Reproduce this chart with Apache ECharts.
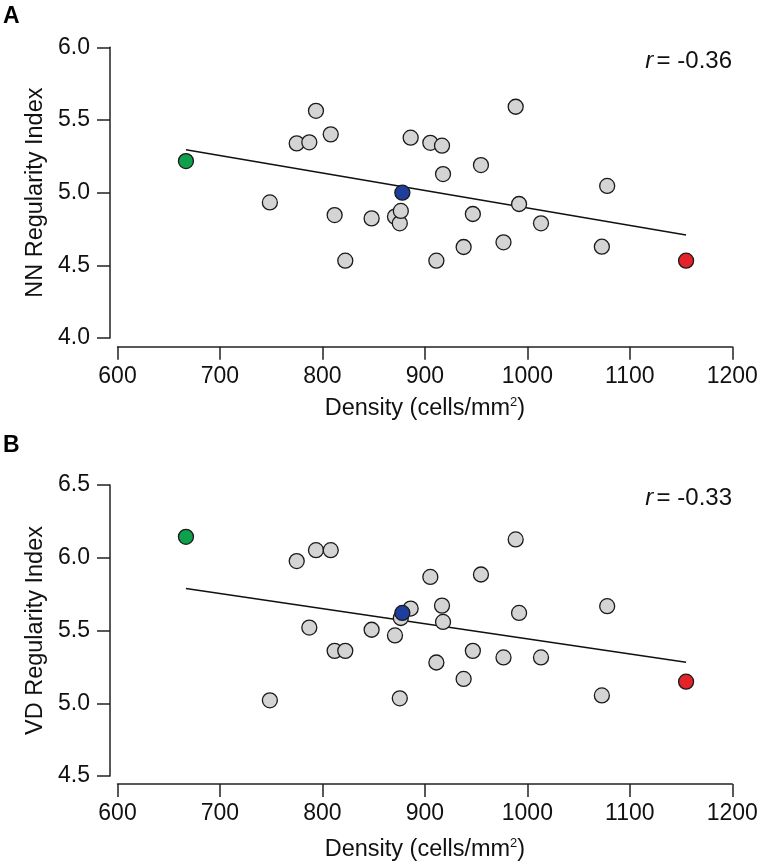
<!DOCTYPE html>
<html>
<head>
<meta charset="utf-8">
<script src="https://cdn.jsdelivr.net/npm/echarts@6/dist/echarts.min.js"></script>
<style>
html,body{margin:0;padding:0;background:#fff;}
#chart{width:762px;height:865px;}
</style>
</head>
<body>
<div id="chart"></div>
<script>
// ---- data ----
const density = [666.8, 748.7, 774.9, 787.2, 793.7, 808.1, 811.9, 822.3, 848.0, 870.8, 875.5, 876.5, 878.0, 886.1,
  905.3, 911.2, 916.7, 917.7, 937.8, 946.8, 954.7, 976.7, 988.6, 991.9, 1013.3, 1072.7, 1077.9, 1154.9];
const nnIndex = [5.217, 4.933, 5.339, 5.346, 5.563, 5.401, 4.846, 4.532, 4.823, 4.835, 4.789, 4.874, 5.000, 5.378,
  5.343, 4.532, 5.323, 5.128, 4.626, 4.853, 5.190, 4.658, 5.591, 4.922, 4.789, 4.628, 5.046, 4.532];
const vdIndex = [6.144, 5.020, 5.977, 5.520, 6.052, 6.052, 5.360, 5.360, 5.505, 5.466, 5.034, 5.586, 5.621, 5.651,
  5.868, 5.280, 5.671, 5.559, 5.167, 5.360, 5.885, 5.315, 6.126, 5.621, 5.315, 5.054, 5.667, 5.148];
const pointGroup = ['green', 'grey', 'grey', 'grey', 'grey', 'grey', 'grey', 'grey', 'grey', 'grey', 'grey', 'grey', 'blue', 'grey',
  'grey', 'grey', 'grey', 'grey', 'grey', 'grey', 'grey', 'grey', 'grey', 'grey', 'grey', 'grey', 'grey', 'red'];
const fitNN = [[666.8, 5.295], [1154.9, 4.709]];
const fitVD = [[666.8, 5.789], [1154.9, 5.282]];
const xTicks = [600, 700, 800, 900, 1000, 1100, 1200];
const nnTicks = [4.0, 4.5, 5.0, 5.5, 6.0];
const vdTicks = [4.5, 5.0, 5.5, 6.0, 6.5];
const rNN = '-0.36';
const rVD = '-0.33';
const panelLabels = ['A', 'B'];
const yTitles = ['NN Regularity Index', 'VD Regularity Index'];

// ---- styles ----
const FONT = "'Liberation Sans', Arial, Helvetica, sans-serif";
const groupColor = { grey: '#d4d4d4', green: '#0ea04b', blue: '#1d3f9b', red: '#e3222a' };
const groupOrder = ['grey', 'green', 'blue', 'red'];

const chart = echarts.init(document.getElementById('chart'), null, { renderer: 'canvas' });

const grids = [
  { left: 117.5, right: 29.7, top: 47.3, height: 290.7 },
  { left: 117.5, right: 29.7, top: 485, height: 291 }
];

function xAxisFor(i, off, gap) {
  return {
    type: 'value', gridIndex: i, min: xTicks[0], max: xTicks[xTicks.length - 1],
    interval: xTicks[1] - xTicks[0], offset: off,
    name: '{t|Density (cells/mm}{s|2}{t|)}', nameLocation: 'middle', nameGap: gap,
    nameTextStyle: {
      rich: {
        t: { fontFamily: FONT, fontSize: 23.5, color: '#111', lineHeight: 26 },
        s: { fontFamily: FONT, fontSize: 13, color: '#111', verticalAlign: 'top', lineHeight: 26 }
      }
    },
    axisLine: { show: true, lineStyle: { color: '#222', width: 1.5 } },
    axisTick: { show: true, length: 13, lineStyle: { color: '#222', width: 1.5 } },
    axisLabel: { fontFamily: FONT, fontSize: 23, color: '#111', margin: 18, formatter: v => String(v) },
    splitLine: { show: false }
  };
}
function yAxisFor(i, ticks, title) {
  return {
    type: 'value', gridIndex: i, min: ticks[0], max: ticks[ticks.length - 1],
    interval: ticks[1] - ticks[0], offset: 7.5,
    name: title, nameLocation: 'middle', nameGap: 62, nameRotate: 90,
    nameTextStyle: { fontFamily: FONT, fontSize: 23.5, color: '#111' },
    axisLine: { show: true, lineStyle: { color: '#222', width: 1.5 } },
    axisTick: { show: true, length: 13, lineStyle: { color: '#222', width: 1.5 } },
    axisLabel: { fontFamily: FONT, fontSize: 23, color: '#111', margin: 20, formatter: v => v.toFixed(1) },
    splitLine: { show: false }
  };
}

const series = [];
[[nnIndex, fitNN], [vdIndex, fitVD]].forEach(([vals, fit], gi) => {
  series.push({
    type: 'line', xAxisIndex: gi, yAxisIndex: gi, data: fit, symbol: 'none',
    lineStyle: { color: '#111', width: 1.6 }, z: 1, silent: true, animation: false
  });
  groupOrder.forEach(g => {
    const pts = [];
    density.forEach((d, k) => { if (pointGroup[k] === g) pts.push([d, vals[k]]); });
    series.push({
      type: 'scatter', xAxisIndex: gi, yAxisIndex: gi, data: pts, symbolSize: 15,
      itemStyle: { color: groupColor[g], borderColor: '#1a1a1a', borderWidth: 1.3, opacity: 1 },
      z: 3, animation: false
    });
  });
});

const rStyle = {
  rich: {
    i: { fontFamily: FONT, fontSize: 24, fontStyle: 'italic', fill: '#111' },
    n: { fontFamily: FONT, fontSize: 24, fill: '#111' }
  }
};

chart.setOption({
  animation: false,
  backgroundColor: '#fff',
  grid: grids,
  xAxis: [xAxisFor(0, 8.7, 49), xAxisFor(1, 8, 53)],
  yAxis: [yAxisFor(0, nnTicks, yTitles[0]), yAxisFor(1, vdTicks, yTitles[1])],
  series: series,
  graphic: [
    { type: 'text', left: 3, top: 5, style: { text: panelLabels[0], font: "bold 23px " + FONT, fill: '#000' } },
    { type: 'text', left: 3, top: 434, style: { text: panelLabels[1], font: "bold 23px " + FONT, fill: '#000' } },
    { type: 'text', right: 30, top: 49, style: Object.assign({ text: '{i|r} {n|= ' + rNN + '}' }, rStyle) },
    { type: 'text', right: 30, top: 486, style: Object.assign({ text: '{i|r} {n|= ' + rVD + '}' }, rStyle) }
  ]
});
</script>
</body>
</html>
